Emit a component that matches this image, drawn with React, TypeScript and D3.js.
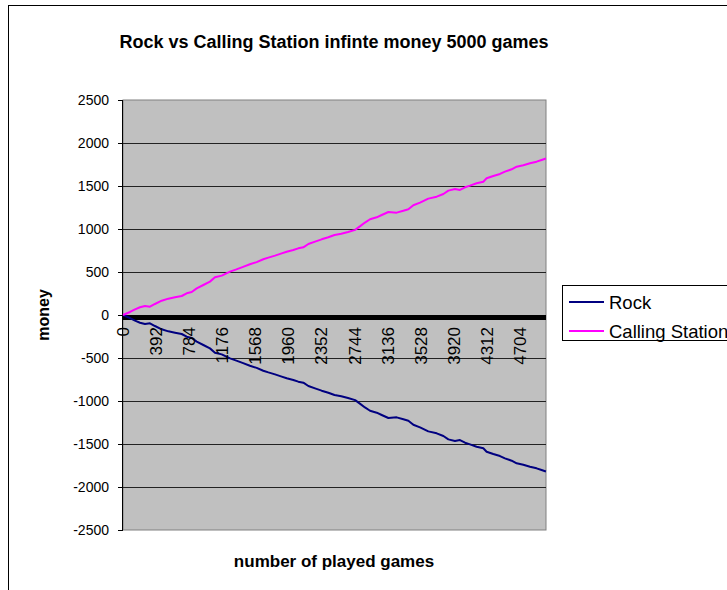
import React from "react";
import * as d3 from "d3";

const games = [0, 83, 142, 201, 260, 319, 378, 457, 536, 615, 694, 753, 812, 871, 950, 1028, 1087, 1167, 1265, 1340, 1420, 1500, 1580, 1658, 1718, 1797, 1876, 1935, 2013, 2072, 2132, 2191, 2270, 2348, 2427, 2500, 2580, 2660, 2744, 2800, 2860, 2920, 2999, 3058, 3137, 3235, 3314, 3373, 3432, 3511, 3609, 3708, 3787, 3846, 3924, 3983, 4043, 4102, 4180, 4259, 4298, 4377, 4456, 4515, 4594, 4653, 4732, 4811, 4889, 4948, 4999];

const callingStation = [0, 35, 66, 90, 105, 97, 128, 166, 190, 206, 221, 252, 267, 310, 349, 388, 438, 458, 504, 530, 560, 590, 615, 648, 667, 690, 717, 736, 756, 775, 787, 826, 853, 880, 904, 930, 945, 965, 990, 1030, 1075, 1113, 1136, 1163, 1198, 1190, 1213, 1229, 1276, 1306, 1353, 1376, 1407, 1446, 1465, 1454, 1485, 1504, 1532, 1550, 1590, 1617, 1640, 1667, 1694, 1725, 1741, 1764, 1783, 1803, 1820];

const rock = [0, -35, -66, -90, -105, -97, -128, -166, -190, -206, -221, -252, -267, -310, -349, -388, -438, -458, -504, -530, -560, -590, -615, -648, -667, -690, -717, -736, -756, -775, -787, -826, -853, -880, -904, -930, -945, -965, -990, -1030, -1075, -1113, -1136, -1163, -1198, -1190, -1213, -1229, -1276, -1306, -1353, -1376, -1407, -1446, -1465, -1454, -1485, -1504, -1532, -1550, -1590, -1617, -1640, -1667, -1694, -1725, -1741, -1764, -1783, -1803, -1820];

const yTicks = [2500, 2000, 1500, 1000, 500, 0, -500, -1000, -1500, -2000, -2500];
const xTickLabels = [0, 392, 784, 1176, 1568, 1960, 2352, 2744, 3136, 3528, 3920, 4312, 4704];

const seriesNames = ["Rock", "Calling Station"];
const seriesColors = ["#000080", "#FF00FF"];

const title = "Rock vs Calling Station infinte money 5000 games";
const xTitle = "number of played games";
const yTitle = "money";

export default function App() {
  const left = 123, right = 546, top = 100, bottom = 530;
  const x = d3.scaleLinear().domain([0, 5000]).range([left, right]);
  const y = d3.scaleLinear().domain([-2500, 2500]).range([bottom, top]);
  const line = d3
    .line<number>()
    .x((_, i) => x(games[i]))
    .y((d) => y(d));
  const font = "Arial, 'Liberation Sans', sans-serif";
  const series = [rock, callingStation];

  return (
    <svg
      width={727}
      height={590}
      style={{ position: "absolute", left: 0, top: 0, fontFamily: font }}
    >
      <rect x={0} y={0} width={727} height={590} fill="#fff" />
      <rect x={8.5} y={5.5} width={800} height={700} fill="#fff" stroke="#000" strokeWidth={1} />
      <text x={334} y={48} textAnchor="middle" fontSize={18} fontWeight="bold">
        {title}
      </text>
      {/* plot area */}
      <rect x={left} y={top} width={right - left} height={bottom - top} fill="#C0C0C0" stroke="#808080" strokeWidth={1} />
      {yTicks.map((t) => (
        <g key={t}>
          {t !== 2500 && t !== -2500 && (
            <line x1={left} x2={right} y1={Math.round(y(t)) + 0.5} y2={Math.round(y(t)) + 0.5} stroke="#222" strokeWidth={1} />
          )}
          <line x1={left - 5} x2={left} y1={Math.round(y(t)) + 0.5} y2={Math.round(y(t)) + 0.5} stroke="#000" strokeWidth={1} />
          <text x={109} y={y(t)} textAnchor="end" dominantBaseline="central" fontSize={14}>
            {t}
          </text>
        </g>
      ))}
      <line x1={left - 0.5} x2={left - 0.5} y1={top} y2={bottom} stroke="#000" strokeWidth={1} />
      {/* category axis with dense ticks */}
      <rect x={left} y={y(0)} width={right - left} height={5} fill="#000" />
      {series.map((s, i) => (
        <path key={i} d={line(s) || ""} fill="none" stroke={seriesColors[i]} strokeWidth={2} strokeLinejoin="round" />
      ))}
      {xTickLabels.map((t) => (
        <text
          key={t}
          transform={`translate(${x(t)},327) rotate(-90)`}
          textAnchor="end"
          dominantBaseline="central"
          fontSize={17}
        >
          {t}
        </text>
      ))}
      <text x={334} y={567} textAnchor="middle" fontSize={17} fontWeight="bold">
        {xTitle}
      </text>
      <text transform={`translate(49,315) rotate(-90)`} textAnchor="middle" fontSize={16} fontWeight="bold">
        {yTitle}
      </text>
      {/* legend */}
      <rect x={562.5} y={285.5} width={200} height={55} fill="#fff" stroke="#000" strokeWidth={1} />
      {seriesNames.map((n, i) => (
        <g key={n}>
          <line x1={569} x2={604} y1={302 + i * 29} y2={302 + i * 29} stroke={seriesColors[i]} strokeWidth={2} />
          <text x={609} y={302 + i * 29} dominantBaseline="central" fontSize={18.5}>
            {n}
          </text>
        </g>
      ))}
    </svg>
  );
}
